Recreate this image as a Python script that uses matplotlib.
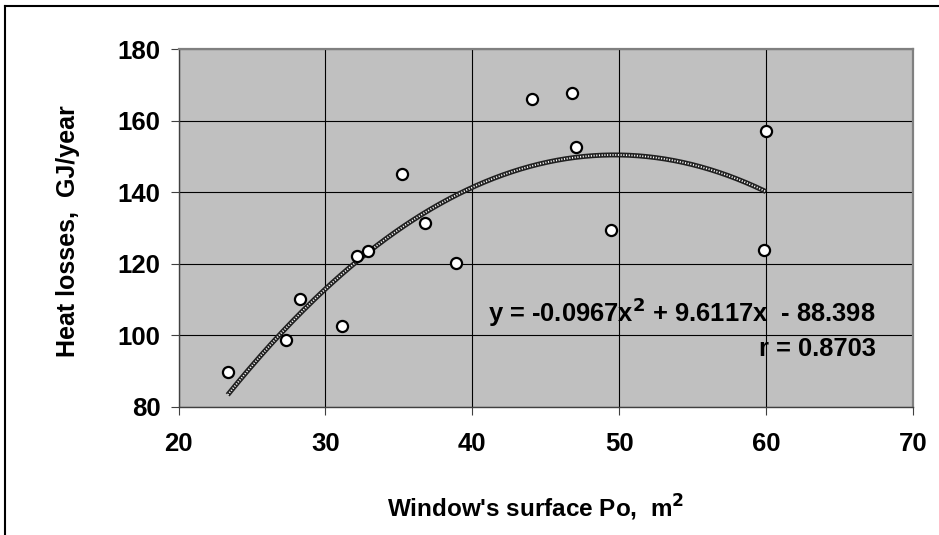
import numpy as np
import matplotlib
matplotlib.use("Agg")
import matplotlib.pyplot as plt
from matplotlib.lines import Line2D

plt.rcParams['font.family'] = ['Liberation Sans', 'DejaVu Sans']

# Data
window_area = [23.35, 27.3, 28.28, 31.12, 32.18, 32.89, 35.2, 36.81, 38.88,
               44.06, 46.78, 47.06, 49.48, 60.0, 59.86]
heat_losses = [89.8, 98.7, 110.0, 102.7, 122.2, 123.6, 145.2, 131.3, 120.1,
               166.0, 167.7, 152.6, 129.5, 157.1, 123.9]
trend_coef = [-0.0967, 9.6117, -88.398]
x_ticks = [20, 30, 40, 50, 60, 70]
y_ticks = [80, 100, 120, 140, 160, 180]

W, H = 939, 535
fig = plt.figure(figsize=(W / 100, H / 100), dpi=100)
fig.patch.set_facecolor('white')
ax = fig.add_axes([178.5 / W, 1 - 406.7 / H, (912.7 - 178.5) / W, (406.7 - 49.3) / H])
ax.set_facecolor('#C0C0C0')
ax.set_xlim(20, 70)
ax.set_ylim(80, 180)
ax.set_xticks(x_ticks)
ax.set_yticks(y_ticks)
ax.grid(True, color='black', linewidth=0.8)
ax.set_axisbelow(True)

# trend line
xt = np.linspace(min(window_area), max(window_area), 300)
yt = np.polyval(trend_coef, xt)
ax.plot(xt, yt, color='#202020', linewidth=3.6, solid_capstyle='butt', zorder=3)
ax.plot(xt, yt, color='white', linewidth=1.3, linestyle=(0, (0.6, 0.9)), zorder=3.1)

ax.plot(window_area, heat_losses, linestyle='none', marker='o', markersize=8,
        markerfacecolor='white', markeredgecolor='black', markeredgewidth=1.6, zorder=4)

for s in ['top', 'right']:
    ax.spines[s].set_color('#808080')
    ax.spines[s].set_linewidth(1.6)
for s in ['left', 'bottom']:
    ax.spines[s].set_color('#404040')
    ax.spines[s].set_linewidth(1.0)

ax.tick_params(axis='both', direction='out', length=6, width=0.8, color='#404040',
               labelsize=18.5)
ax.tick_params(axis='x', pad=12)
ax.tick_params(axis='y', pad=7)
for lab in ax.get_xticklabels() + ax.get_yticklabels():
    lab.set_fontweight('bold')

ax.text(0.95, 0.237, r'y = -0.0967x$^{\mathbf{2}}$ + 9.6117x  - 88.398', transform=ax.transAxes,
        ha='right', va='baseline', fontsize=18.4, fontweight='bold')
ax.text(0.95, 0.142, 'r = 0.8703', transform=ax.transAxes,
        ha='right', va='baseline', fontsize=18.4, fontweight='bold')

fig.text(536 / W, 1 - 516.7 / H, r"Window's surface Po,  m$^{\mathbf{2}}$", ha='center',
         va='baseline', fontsize=17.5, fontweight='bold')
fig.text(80 / W, 1 - 231 / H, 'Heat losses,  GJ/year', rotation=90, ha='right',
         va='center', fontsize=18, fontweight='bold')

# outer border (top and left visible)
fig.add_artist(Line2D([4.5 / W, 4.5 / W], [0, 1 - 6 / H], transform=fig.transFigure,
                      color='black', linewidth=1.5))
fig.add_artist(Line2D([4.5 / W, 1], [1 - 6 / H, 1 - 6 / H], transform=fig.transFigure,
                      color='black', linewidth=1.5))

fig.savefig('out.png', dpi=100)
